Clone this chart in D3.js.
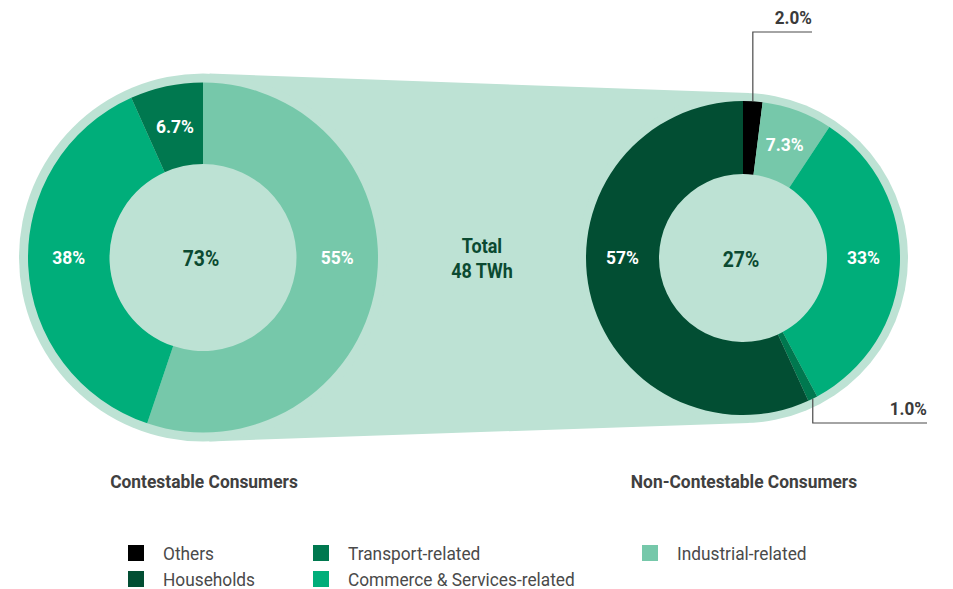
<!DOCTYPE html>
<html>
<head>
<meta charset="utf-8">
<script src="https://cdn.jsdelivr.net/npm/d3@7"></script>
<style>
  html, body { margin: 0; padding: 0; background: #ffffff; }
  svg { display: block; font-family: Roboto, "Noto Sans", sans-serif; }
</style>
</head>
<body>
<svg id="chart" width="953" height="589"></svg>
<script>
// ---- Data ----
const categories = ["Others", "Households", "Transport-related", "Commerce & Services-related", "Industrial-related"];
const categoryColors = ["#000000", "#024e33", "#00784f", "#00ae7a", "#76c8aa"];

const groupNames = ["Contestable Consumers", "Non-Contestable Consumers"];
const groupShares = [73, 27];          // % of total consumption
const totalLabel = ["Total", "48 TWh"];

// slices listed clockwise from 12 o'clock
const contestableSlices = ["Industrial-related", "Commerce & Services-related", "Transport-related"];
const contestableValues = [55, 38, 6.7];

const nonContestableSlices = ["Others", "Industrial-related", "Commerce & Services-related", "Transport-related", "Households"];
const nonContestableValues = [2.0, 7.3, 33, 1.0, 57];

// ---- Layout ----
const haloColor = "#bde2d4";
const ringText = "#ffffff";
const darkText = "#0b4a31";
const greyText = "#404040";

const donuts = [
  { cx: 203, cy: 257.5, inner: 93.5, outer: 175, halo: 184,
    slices: contestableSlices, values: contestableValues, share: groupShares[0], name: groupNames[0] },
  { cx: 743, cy: 258, inner: 84, outer: 157, halo: 165,
    slices: nonContestableSlices, values: nonContestableValues, share: groupShares[1], name: groupNames[1] }
];

// callout routing for slices too thin to hold their own label
const callouts = {
  "Others": { elbowY: 32, endX: 812 },
  "Transport-related": { elbowY: 423, endX: 927 }
};

const color = d3.scaleOrdinal().domain(categories).range(categoryColors);
const fmt = v => (v < 10 ? v.toFixed(1) : d3.format(".0f")(v)) + "%";

const svg = d3.select("#chart");

// text squeezed horizontally for a condensed look
function label(sel, x, y, str, o) {
  return sel.append("text")
    .attr("transform", `translate(${x},${y}) scale(${o.sx},1)`)
    .attr("text-anchor", o.anchor || "middle")
    .attr("dy", o.dy ?? "0.355em")
    .attr("font-size", o.size)
    .attr("font-weight", o.weight || 700)
    .attr("fill", o.fill)
    .text(str);
}

// ---- Halo: both circles joined by their outer common tangents ----
const [A, B] = donuts;
const dx = B.cx - A.cx, dy = B.cy - A.cy;
const dist = Math.hypot(dx, dy);
const theta = Math.atan2(dy, dx);
const alpha = Math.acos((A.halo - B.halo) / dist);
const pt = (c, r, ang) => [c.cx + r * Math.cos(ang), c.cy + r * Math.sin(ang)];
const band = [
  pt(A, A.halo, theta - alpha), pt(B, B.halo, theta - alpha),
  pt(B, B.halo, theta + alpha), pt(A, A.halo, theta + alpha)
];
const halo = svg.append("g").attr("fill", haloColor);
halo.append("path").attr("d", d3.line()(band) + "Z");
donuts.forEach(d => halo.append("circle").attr("cx", d.cx).attr("cy", d.cy).attr("r", d.halo));

// ---- Donuts ----
const pie = d3.pie().sort(null).value(d => d.value);

donuts.forEach(d => {
  const g = svg.append("g").attr("transform", `translate(${d.cx},${d.cy})`);
  const data = d.slices.map((k, i) => ({ key: k, value: d.values[i] }));
  const arcs = pie(data);
  const arc = d3.arc().innerRadius(d.inner).outerRadius(d.outer);
  const mid = (d.inner + d.outer) / 2;

  g.selectAll("path.slice").data(arcs).join("path")
    .attr("class", "slice")
    .attr("d", arc)
    .attr("fill", a => color(a.data.key));

  arcs.forEach(a => {
    const txt = fmt(a.data.value);
    const co = callouts[a.data.key];
    if (co && a.data.value < 3) {
      // thin slice: elbow leader line to an outside label
      const ang = (a.startAngle + a.endAngle) / 2;
      const x0 = d.outer * Math.sin(ang), y0 = -d.outer * Math.cos(ang);
      const ey = co.elbowY - d.cy, ex = co.endX - d.cx;
      g.append("path")
        .attr("d", d3.line()([[x0, y0], [x0, ey], [ex, ey]]))
        .attr("fill", "none").attr("stroke", "#4a4a4a").attr("stroke-width", 1.2);
      label(g, ex, ey - 8, txt, { anchor: "end", size: 18, fill: "#3a3a3a", sx: 0.95, dy: "0em" });
      return;
    }
    // big slices crossing the horizontal axis keep their label on it
    let ang = (a.startAngle + a.endAngle) / 2;
    [Math.PI / 2, 3 * Math.PI / 2].forEach(h => {
      if (a.startAngle < h && a.endAngle > h && a.endAngle - a.startAngle > Math.PI / 2) ang = h;
    });
    label(g, mid * Math.sin(ang), -mid * Math.cos(ang), txt, { size: 18, fill: ringText, sx: 0.97 });
  });

  label(g, -2, 1, d.share + "%", { size: 21.5, fill: darkText, sx: 0.9 });
  label(svg, d.cx + 1, 481, d.name, { size: 18.5, fill: greyText, sx: 0.94 });
});

// ---- Centre total ----
label(svg, 482, 245.5, totalLabel[0], { size: 20, fill: darkText, sx: 0.9 });
label(svg, 482, 270.5, totalLabel[1], { size: 20, fill: darkText, sx: 0.9 });

// ---- Legend ----
const legendCols = [128, 313, 642];
const legendRows = [545, 571];
const legendLayout = [[0, 0], [0, 1], [1, 0], [1, 1], [2, 0]];
const leg = svg.append("g");
categories.forEach((c, i) => {
  const [ci, ri] = legendLayout[i];
  const x = legendCols[ci], y = legendRows[ri];
  leg.append("rect").attr("x", x).attr("y", y).attr("width", 16).attr("height", 16).attr("fill", color(c));
  label(leg, x + 35, y + 8, c, { anchor: "start", size: 19, weight: 400, fill: "#4a4a4a", sx: 0.91 });
});
</script>
</body>
</html>
